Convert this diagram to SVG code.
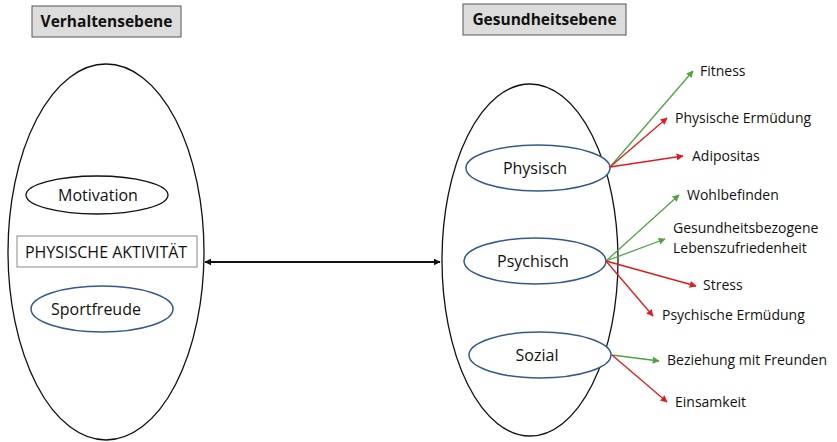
<svg xmlns="http://www.w3.org/2000/svg" width="837" height="442" viewBox="0 0 837 442">
<style>
text{font-family:"Open Sans","Liberation Sans",sans-serif;font-size:14px;fill:#111}
.hdr{font-weight:bold;font-size:15.5px}
.n{font-size:16px}
.big{fill:#fff;stroke:#111;stroke-width:1.3}
.blue{fill:#fff;stroke:#34598e;stroke-width:1.5}
.blk{fill:#fff;stroke:#111;stroke-width:1.3}
.g{stroke:#4ea441;stroke-width:1.3;fill:none;marker-end:url(#mg)}
.r{stroke:#e3191b;stroke-width:1.3;fill:none;marker-end:url(#mr)}
</style>
<defs>
<marker id="mg" viewBox="0 0 10 10" refX="9" refY="5" markerWidth="7" markerHeight="7" orient="auto" markerUnits="userSpaceOnUse"><path d="M0,0L10,5L0,10z" fill="#4ea441"/></marker>
<marker id="mr" viewBox="0 0 10 10" refX="9" refY="5" markerWidth="7" markerHeight="7" orient="auto" markerUnits="userSpaceOnUse"><path d="M0,0L10,5L0,10z" fill="#e3191b"/></marker>
<marker id="mb" viewBox="0 0 10 10" refX="9" refY="5" markerWidth="7" markerHeight="7" orient="auto-start-reverse" markerUnits="userSpaceOnUse"><path d="M0,0L10,5L0,10z" fill="#111"/></marker>
</defs>
<rect width="837" height="442" fill="#fff"/>
<g id="hdr-verhalten"><rect x="32" y="6" width="149" height="31" fill="#dcdcdc" stroke="#555" stroke-width="1"/><text class="hdr" x="106.5" y="27" text-anchor="middle">Verhaltensebene</text></g>
<g id="hdr-gesundheit"><rect x="463" y="4" width="163" height="31" fill="#dcdcdc" stroke="#555" stroke-width="1"/><text class="hdr" x="544.5" y="25" text-anchor="middle">Gesundheitsebene</text></g>
<g id="verhalten"><ellipse class="big" cx="106" cy="252" rx="98" ry="188"/></g>
<g id="gesundheit"><ellipse class="big" cx="530" cy="260" rx="88" ry="176"/></g>
<g id="motivation"><ellipse class="blk" cx="97" cy="195" rx="71" ry="19"/><text class="n" x="98" y="201" text-anchor="middle">Motivation</text></g>
<g id="aktivitaet"><rect x="17" y="236" width="180" height="31" fill="#fff" stroke="#888" stroke-width="1"/><text class="n" x="106" y="257.5" text-anchor="middle">PHYSISCHE AKTIVITÄT</text></g>
<g id="sportfreude"><ellipse class="blue" cx="102" cy="309" rx="71" ry="23"/><text class="n" x="96" y="315" text-anchor="middle">Sportfreude</text></g>
<g id="physisch"><ellipse class="blue" cx="538" cy="168" rx="72" ry="23"/><text class="n" x="535" y="174" text-anchor="middle">Physisch</text></g>
<g id="psychisch"><ellipse class="blue" cx="535" cy="261" rx="71" ry="23"/><text class="n" x="533" y="267" text-anchor="middle">Psychisch</text></g>
<g id="sozial"><ellipse class="blue" cx="540" cy="355" rx="71" ry="23"/><text class="n" x="537" y="361" text-anchor="middle">Sozial</text></g>
<g id="connectors">
<line x1="205" y1="262" x2="440" y2="262" stroke="#111" stroke-width="1.8" marker-start="url(#mb)" marker-end="url(#mb)"/>
<line class="g" x1="610" y1="167" x2="693" y2="71"/>
<line class="r" x1="610" y1="167" x2="667" y2="118"/>
<line class="r" x1="610" y1="167" x2="683" y2="156"/>
<line class="g" x1="606" y1="261" x2="679" y2="195"/>
<line class="g" x1="606" y1="261" x2="665" y2="239"/>
<line class="r" x1="606" y1="261" x2="696" y2="286"/>
<line class="r" x1="606" y1="261" x2="653" y2="316"/>
<line class="g" x1="612" y1="355" x2="659" y2="361"/>
<line class="r" x1="612" y1="355" x2="667" y2="402"/>
</g>
<g id="labels">
<text x="700" y="76">Fitness</text>
<text x="675" y="123">Physische Ermüdung</text>
<text x="692" y="161">Adipositas</text>
<text x="687" y="200">Wohlbefinden</text>
<text x="673" y="233">Gesundheitsbezogene</text>
<text x="673" y="253">Lebenszufriedenheit</text>
<text x="703" y="290">Stress</text>
<text x="662" y="320">Psychische Ermüdung</text>
<text x="667" y="365">Beziehung mit Freunden</text>
<text x="675" y="407">Einsamkeit</text>
</g>
</svg>
